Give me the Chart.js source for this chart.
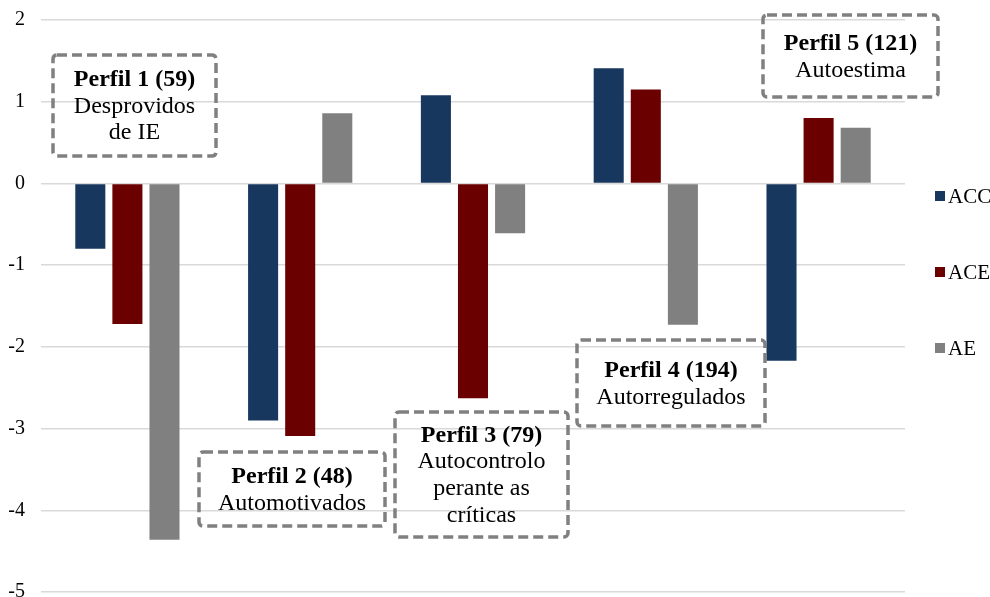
<!DOCTYPE html>
<html>
<head>
<meta charset="utf-8">
<script src="https://cdn.jsdelivr.net/npm/chart.js@4/dist/chart.umd.min.js"></script>
<style>
  html, body { margin: 0; padding: 0; background: #fff; }
  canvas { display: block; }
</style>
</head>
<body>
<canvas id="perfis" width="990" height="597"></canvas>
<script>
const categories = ['Perfil 1', 'Perfil 2', 'Perfil 3', 'Perfil 4', 'Perfil 5'];
const seriesNames = ['ACC', 'ACE', 'AE'];
const accValues = [-0.80, -2.90, 1.08, 1.41, -2.17];
const aceValues = [-1.72, -3.09, -2.63, 1.15, 0.80];
const aeValues = [-4.36, 0.86, -0.61, -1.73, 0.68];
const yTicks = [2, 1, 0, -1, -2, -3, -4, -5];

// text of the dashed boxes: first line is bold
const boxTitles = ['Perfil 1 (59)', 'Perfil 2 (48)', 'Perfil 3 (79)', 'Perfil 4 (194)', 'Perfil 5 (121)'];
const boxLines = [['Desprovidos', 'de IE'], ['Automotivados'], ['Autocontrolo', 'perante as', 'críticas'], ['Autorregulados'], ['Autoestima']];

const colors = ['#17375e', '#6b0000', '#808080'];
const serif = '"Liberation Serif", "Times New Roman", serif';

// box rectangles on the page (x, y, w, h)
const boxRects = [
    [53, 55, 163, 101],
    [199, 452, 186, 74],
    [395, 412, 173, 125],
    [577, 340, 188, 86],
    [763, 15, 175, 82]
];

const boxPlugin = {
    id: 'boxes',
    afterDraw(chart) {
        const ctx = chart.ctx;
        ctx.save();
        boxRects.forEach((r, i) => {
            ctx.beginPath();
            ctx.setLineDash([10, 5]);
            ctx.lineWidth = 3.5;
            ctx.strokeStyle = '#808080';
            ctx.roundRect(r[0], r[1], r[2], r[3], 4);
            ctx.stroke();
            ctx.setLineDash([]);
            const lines = [boxTitles[i]].concat(boxLines[i]);
            const lh = 26.6;
            const cx = r[0] + r[2] / 2;
            const top = r[1] + r[3] / 2 - (lines.length - 1) * lh / 2;
            ctx.fillStyle = '#000';
            ctx.textAlign = 'center';
            ctx.textBaseline = 'middle';
            lines.forEach((t, j) => {
                ctx.font = (j === 0 ? 'bold ' : '') + '24px ' + serif;
                ctx.fillText(t, cx, top + j * lh + 1);
            });
        });
        // legend
        const ys = [196, 272, 348];
        chart.data.datasets.forEach((ds, i) => {
            ctx.fillStyle = ds.backgroundColor;
            ctx.fillRect(935, ys[i] - 5, 10, 10);
            ctx.fillStyle = '#000';
            ctx.font = '21px ' + serif;
            ctx.textAlign = 'left';
            ctx.textBaseline = 'middle';
            ctx.fillText(ds.label, 948, ys[i] + 1);
        });
        ctx.restore();
    }
};

new Chart(document.getElementById('perfis'), {
    type: 'bar',
    data: {
        labels: categories,
        datasets: [
            { label: seriesNames[0], data: accValues, backgroundColor: colors[0] },
            { label: seriesNames[1], data: aceValues, backgroundColor: colors[1] },
            { label: seriesNames[2], data: aeValues, backgroundColor: colors[2] }
        ]
    },
    options: {
        responsive: false,
        animation: false,
        layout: { padding: { left: 0, right: 85, top: 20, bottom: 5 } },
        datasets: { bar: { categoryPercentage: 0.644, barPercentage: 0.81 } },
        plugins: {
            legend: { display: false },
            tooltip: { enabled: false }
        },
        scales: {
            x: { display: false },
            y: {
                min: -5,
                max: 2,
                afterBuildTicks: s => { s.ticks = yTicks.map(v => ({ value: v })); },
                afterFit: s => { s.width = 41; s.paddingTop = 0; s.paddingBottom = 0; },
                grid: { color: '#d9d9d9', lineWidth: 1.5, drawTicks: false },
                border: { display: false },
                ticks: {
                    padding: 16,
                    color: '#000',
                    font: { family: serif, size: 20 }
                }
            }
        }
    },
    plugins: [boxPlugin]
});
</script>
</body>
</html>
